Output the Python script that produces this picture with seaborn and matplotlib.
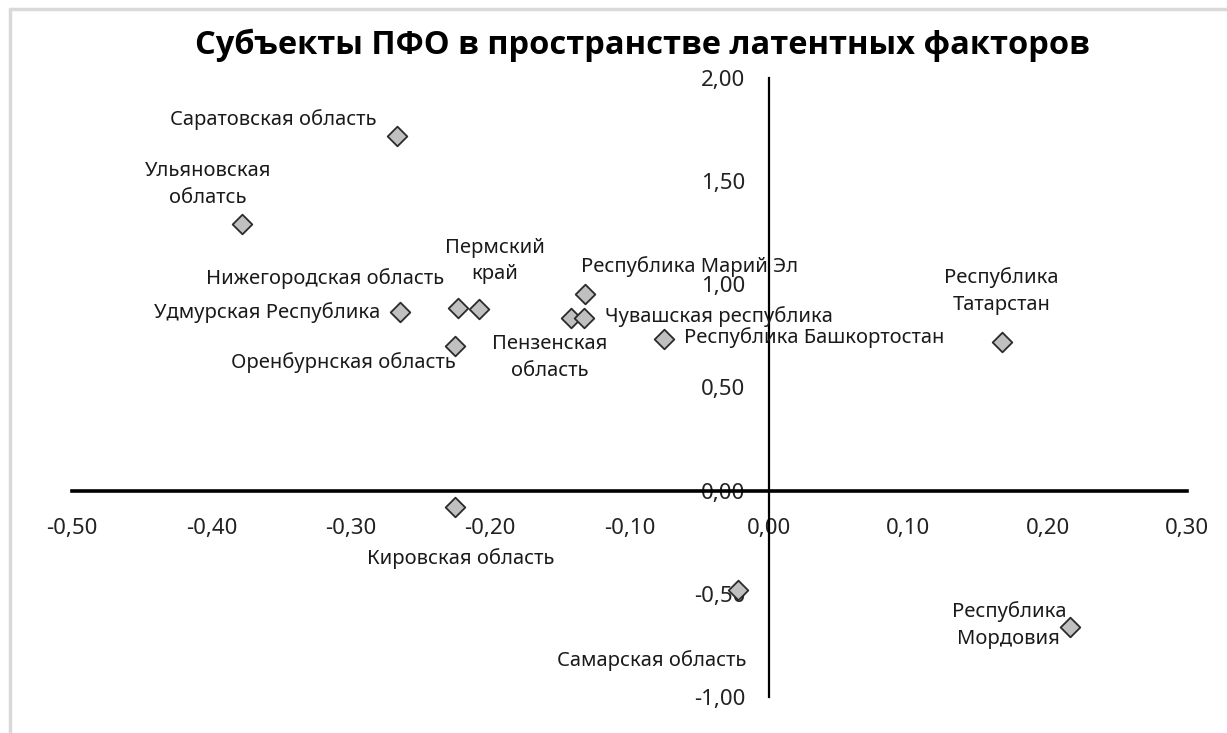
import numpy as np
import pandas as pd
import matplotlib
matplotlib.use('Agg')
import matplotlib.pyplot as plt
from matplotlib.ticker import FuncFormatter, MultipleLocator
from matplotlib.lines import Line2D
import seaborn as sns

# данные: субъекты ПФО, координаты по двум латентным факторам
regions = ['Саратовская область', 'Ульяновская\nоблатсь', 'Удмурская Республика',
           'Нижегородская область', 'Пермский\nкрай', 'Оренбурнская область',
           'Республика Марий Эл', 'Пензенская\nобласть', 'Чувашская республика',
           'Республика Башкортостан', 'Республика\nТатарстан', 'Кировская область',
           'Самарская область', 'Республика\nМордовия']
factor1 = [-0.267, -0.378, -0.265, -0.223, -0.208, -0.225, -0.132, -0.142, -0.133,
           -0.075, 0.167, -0.225, -0.022, 0.216]
factor2 = [1.72, 1.29, 0.865, 0.885, 0.88, 0.70, 0.955, 0.836, 0.836,
           0.735, 0.722, -0.08, -0.48, -0.66]

# смещения подписей (px) и выравнивание
label_dx = [-20, -34, -19, -14, 16, 0, -4, -21, 21, 20, 0, 5, -87, -61]
label_dy = [16, 40, 0, 30, 48, -16, 27, -39, 2, 1, 51, -51, -71, 2]
label_ha = ['right', 'center', 'right', 'right', 'center', 'right', 'left', 'center',
            'left', 'left', 'center', 'center', 'center', 'center']

df = pd.DataFrame({'f1': factor1, 'f2': factor2, 'name': regions})

sns.set_style('white')
plt.rcParams['font.family'] = ['Noto Sans', 'DejaVu Sans']

fig = plt.figure(figsize=(12.27, 7.33), dpi=100)
ax = fig.add_axes([72 / 1227, 1 - 697 / 733, (1187 - 72) / 1227, (697 - 78) / 733])

sns.scatterplot(data=df, x='f1', y='f2', ax=ax, marker='D', s=100,
                color='#c0c0c0', edgecolor='#2b2b2b', linewidth=1.3, zorder=3)

px = 100 / 72
for i, name in enumerate(regions):
    ax.annotate(name, (factor1[i], factor2[i]),
                xytext=(label_dx[i] / px, label_dy[i] / px), textcoords='offset points',
                ha=label_ha[i], va='center', fontsize=14.5, color='#1a1a1a',
                linespacing=1.45, multialignment='center')

ax.set_xlim(-0.5, 0.3)
ax.set_ylim(-1.0, 2.0)
ax.xaxis.set_major_locator(MultipleLocator(0.1))
ax.yaxis.set_major_locator(MultipleLocator(0.5))
fmt = FuncFormatter(lambda v, p: f'{v:.2f}'.replace('.', ',').replace('-0,00', '0,00'))
ax.xaxis.set_major_formatter(fmt)
ax.yaxis.set_major_formatter(fmt)

ax.spines['left'].set_position(('data', 0))
ax.spines['bottom'].set_position(('data', 0))
ax.spines['right'].set_visible(False)
ax.spines['top'].set_visible(False)
ax.spines['left'].set_linewidth(1.6)
ax.spines['bottom'].set_linewidth(2.6)
ax.spines['left'].set_color('black')
ax.spines['bottom'].set_color('black')
ax.tick_params(axis='x', length=0, pad=20, labelsize=16, labelcolor='#222222')
ax.tick_params(axis='y', length=0, pad=17, labelsize=16, labelcolor='#222222')
ax.set_xlabel('')
ax.set_ylabel('')
ax.patch.set_alpha(0)

fig.text(642 / 1227, 1 - 45 / 733, 'Субъекты ПФО в пространстве латентных факторов',
         ha='center', va='center', fontsize=23.5, fontweight='bold', color='black',
         family=['Open Sans', 'DejaVu Sans'])

# рамка области диаграммы
fig.add_artist(Line2D([10 / 1227, 1], [1 - 9 / 733, 1 - 9 / 733], transform=fig.transFigure,
                      color='#d9d9d9', linewidth=2.5))
fig.add_artist(Line2D([10 / 1227, 10 / 1227], [0, 1 - 9 / 733], transform=fig.transFigure,
                      color='#d9d9d9', linewidth=2.5))

plt.savefig('out.png', dpi=100)
plt.close()
